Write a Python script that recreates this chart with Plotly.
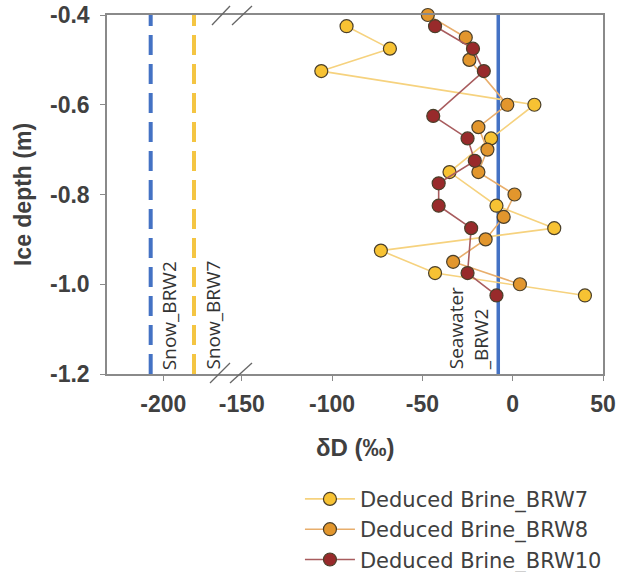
import plotly.graph_objects as go

# ---- data ----
brw7_depth = [-0.425, -0.475, -0.525, -0.6, -0.675, -0.75, -0.825, -0.875, -0.925, -0.975, -1.025]
brw7_dD = [-92, -68, -106, 12, -12, -35, -9, 23, -73, -43, 40]

brw8_depth = [-0.4, -0.45, -0.5, -0.6, -0.65, -0.7, -0.75, -0.8, -0.85, -0.9, -0.95, -1.0]
brw8_dD = [-47, -26, -24, -3, -19, -14, -19, 1, -5, -15, -33, 4]

brw10_depth = [-0.425, -0.475, -0.525, -0.625, -0.675, -0.725, -0.775, -0.825, -0.875, -0.975, -1.025]
brw10_dD = [-43, -22, -16, -44, -25, -21, -41, -41, -23, -25, -9]

snow_brw2 = -207
snow_brw7 = -183
seawater_brw2 = -8

y_ticks = [-1.2, -1.0, -0.8, -0.6, -0.4]
x_ticks_left = [-200]
x_ticks_right = [-150, -100, -50, 0, 50]
y_range = [-1.2, -0.4]

y_ticktext = [f"{v:.1f}" for v in y_ticks]
xl_ticktext = [f"{v:d}" for v in x_ticks_left]
xr_ticktext = [f"{v:d}" for v in x_ticks_right]

FONT = "Arial, Liberation Sans, sans-serif"
TXT = "#404040"
AX = "#8a8a8a"

fig = go.Figure()

# reference lines (left segment)
fig.add_trace(go.Scatter(x=[snow_brw2, snow_brw2], y=y_range, mode="lines",
                         line=dict(color="#4472C4", width=4, dash="20px,9px"),
                         xaxis="x", yaxis="y", showlegend=False, hoverinfo="skip"))
fig.add_trace(go.Scatter(x=[snow_brw7, snow_brw7], y=y_range, mode="lines",
                         line=dict(color="#F4C542", width=4, dash="20px,9px"),
                         xaxis="x", yaxis="y", showlegend=False, hoverinfo="skip"))
# seawater line (right segment)
fig.add_trace(go.Scatter(x=[seawater_brw2, seawater_brw2], y=y_range, mode="lines",
                         line=dict(color="#4472C4", width=3.5),
                         xaxis="x2", yaxis="y2", showlegend=False, hoverinfo="skip"))

mk_line = dict(color="#4a3f2a", width=1.2)
fig.add_trace(go.Scatter(x=brw7_dD, y=brw7_depth, mode="lines+markers",
                         name="Deduced Brine_BRW7",
                         line=dict(color="#F6D27E", width=1.6),
                         marker=dict(size=13, color="#F7C233", line=mk_line),
                         xaxis="x2", yaxis="y2", cliponaxis=False))
fig.add_trace(go.Scatter(x=brw8_dD, y=brw8_depth, mode="lines+markers",
                         name="Deduced Brine_BRW8",
                         line=dict(color="#E8AE6C", width=1.6),
                         marker=dict(size=13, color="#E2962D", line=mk_line),
                         xaxis="x2", yaxis="y2", cliponaxis=False))
fig.add_trace(go.Scatter(x=brw10_dD, y=brw10_depth, mode="lines+markers",
                         name="Deduced Brine_BRW10",
                         line=dict(color="#A85C5E", width=1.6),
                         marker=dict(size=13, color="#982A2B", line=mk_line),
                         xaxis="x2", yaxis="y2", cliponaxis=False))

split = 0.25
tickfont = dict(family=FONT, size=23, color=TXT, weight="bold")

fig.update_layout(
    width=617, height=572,
    margin=dict(l=107, r=14, t=15, b=198),
    paper_bgcolor="white", plot_bgcolor="white",
    font=dict(family=FONT, color=TXT),
    xaxis=dict(domain=[0, split], range=[-231.2, -162.5], tickvals=x_ticks_left,
               ticktext=xl_ticktext, automargin=False,
               showgrid=False, zeroline=False, showline=True, linecolor=AX, linewidth=1.5,
               mirror=True, ticks="outside", ticklen=5, tickcolor=AX,
               tickfont=tickfont, anchor="y", ticklabelstandoff=4),
    xaxis2=dict(domain=[split, 1], range=[-156, 50], tickvals=x_ticks_right,
                ticktext=xr_ticktext, automargin=False,
                showgrid=False, zeroline=False, showline=True, linecolor=AX, linewidth=1.5,
                mirror=True, ticks="outside", ticklen=5, tickcolor=AX,
                tickfont=tickfont, anchor="y2", ticklabelstandoff=4),
    yaxis=dict(range=y_range, tickvals=y_ticks, ticktext=y_ticktext, automargin=False,
               showgrid=False, zeroline=False, showline=True, linecolor=AX, linewidth=1.5,
               ticks="outside", ticklen=5, tickcolor=AX, tickfont=tickfont,
               anchor="x", ticklabelstandoff=6,
               title=dict(text="Ice depth (m)", standoff=12,
                          font=dict(family=FONT, size=23, color=TXT, weight="bold"))),
    yaxis2=dict(range=y_range, matches="y", anchor="x2", side="right", automargin=False,
                showgrid=False, zeroline=False, showline=True, linecolor=AX, linewidth=1.5,
                showticklabels=False, ticks=""),
    legend=dict(xref="paper", yref="container", x=0.389, y=0.163,
                xanchor="left", yanchor="top",
                font=dict(family="DejaVu Sans, sans-serif", size=21, color=TXT),
                itemwidth=50, tracegroupgap=0, bgcolor="rgba(0,0,0,0)"),
    showlegend=True,
)

# x-axis title spanning both segments
fig.add_annotation(text="\u03b4D (\u2030)", xref="paper", yref="paper", x=0.5, y=-0.2036,
                   xanchor="center", yanchor="middle", showarrow=False,
                   font=dict(family=FONT, size=24, color=TXT, weight="bold"))

# vertical labels
lab_font = dict(family="Open Sans, sans-serif", size=19, color="#333333")
fig.add_annotation(text="Snow_BRW2", x=snow_brw2, y=y_range[0], xref="x", yref="y",
                   textangle=-90, xanchor="left", yanchor="bottom", xshift=3, yshift=2,
                   showarrow=False, font=lab_font)
fig.add_annotation(text="Snow_BRW7", x=snow_brw7, y=y_range[0], xref="x", yref="y",
                   textangle=-90, xanchor="left", yanchor="bottom", xshift=3, yshift=2,
                   showarrow=False, font=lab_font)
fig.add_annotation(text="Seawater<br>_BRW2", x=seawater_brw2, y=y_range[0], xref="x2", yref="y2",
                   textangle=-90, xanchor="right", yanchor="bottom", xshift=-2, yshift=2,
                   align="left", showarrow=False, font=lab_font)

# axis-break marks
brk = dict(color="#666666", width=1.3)
for (x0, y0, x1, y1) in [(0.2077, -0.0251, 0.248, 0.0306), (0.248, -0.0251, 0.2923, 0.0306),
                         (0.2117, 0.9721, 0.248, 1.0251), (0.252, 0.9721, 0.2923, 1.0251)]:
    fig.add_shape(type="line", xref="paper", yref="paper", x0=x0, y0=y0, x1=x1, y1=y1, line=brk)

fig.write_html("out.html", config={"displayModeBar": False},
               post_script="document.body.style.margin='0';")
